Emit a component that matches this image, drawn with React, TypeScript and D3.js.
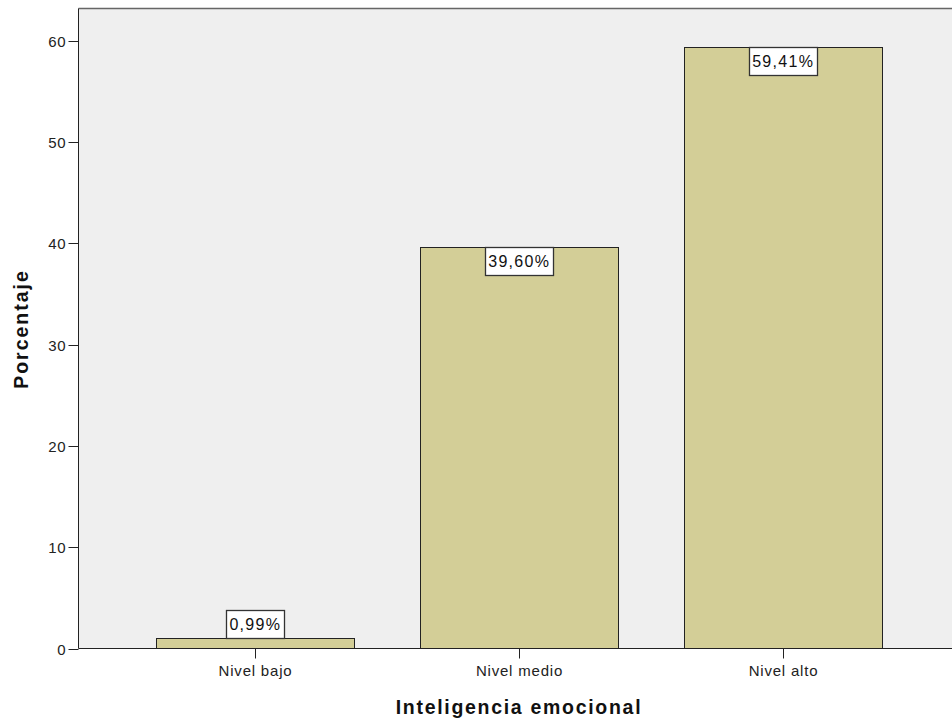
import React, { useEffect, useRef } from "react";
import * as d3 from "d3";

const categories = ["Nivel bajo", "Nivel medio", "Nivel alto"];
const percentages = [0.99, 39.6, 59.41];
const valueLabels = ["0,99%", "39,60%", "59,41%"];
const yTicks = [0, 10, 20, 30, 40, 50, 60];
const xTitle = "Inteligencia emocional";
const yTitle = "Porcentaje";

export default function App() {
  const ref = useRef<SVGSVGElement>(null);
  useEffect(() => {
    const svg = d3.select(ref.current);
    svg.selectAll("*").remove();
    const W = 952;
    const left = 78.5, top = 8.5, bottom = 648.5, right = 960;
    const x = d3.scaleBand<string>().domain(categories).range([left, right]).paddingInner(0.25).paddingOuter(0.295);
    const y = d3.scaleLinear().domain([0, 63.2]).range([bottom, top]);
    const font = "Arial, 'Liberation Sans', sans-serif";

    svg.append("rect").attr("x", left).attr("y", top).attr("width", right - left).attr("height", bottom - top).attr("fill", "#efefef");
    svg.append("line").attr("x1", left).attr("x2", W).attr("y1", top).attr("y2", top).attr("stroke", "#666").attr("stroke-width", 1.5);

    // bars
    svg.selectAll("rect.bar").data(percentages).enter().append("rect")
      .attr("class", "bar")
      .attr("x", (_, i) => Math.round(x(categories[i])!) + 0.5)
      .attr("width", Math.round(x.bandwidth()))
      .attr("y", d => Math.round(y(d)) + 0.5)
      .attr("height", d => bottom - Math.round(y(d)) - 0.5)
      .attr("fill", "#d3ce97").attr("stroke", "#222").attr("stroke-width", 1);

    // axes lines
    svg.append("line").attr("x1", left).attr("x2", left).attr("y1", top).attr("y2", bottom).attr("stroke", "#222");
    svg.append("line").attr("x1", left).attr("x2", W).attr("y1", bottom).attr("y2", bottom).attr("stroke", "#222");

    // y ticks
    const yt = svg.append("g");
    yTicks.forEach(t => {
      const yy = Math.round(y(t)) + 0.5;
      yt.append("line").attr("x1", left - 10).attr("x2", left).attr("y1", yy).attr("y2", yy).attr("stroke", "#222");
      yt.append("text").attr("x", left - 12).attr("y", yy).attr("dy", "0.36em").attr("text-anchor", "end")
        .attr("font-family", font).attr("font-size", 15).attr("letter-spacing", 0.8).attr("fill", "#222").text(String(t));
    });

    // x ticks
    categories.forEach(c => {
      const xx = Math.round(x(c)! + x.bandwidth() / 2) + 0.5;
      svg.append("line").attr("x1", xx).attr("x2", xx).attr("y1", bottom).attr("y2", bottom + 10).attr("stroke", "#222");
      svg.append("text").attr("x", xx).attr("y", 675.5).attr("text-anchor", "middle")
        .attr("font-family", font).attr("font-size", 15).attr("letter-spacing", 0.8).attr("fill", "#222").text(c);
    });

    // value labels
    percentages.forEach((v, i) => {
      const cx = x(categories[i])! + x.bandwidth() / 2;
      const barTop = Math.round(y(v)) + 0.5;
      const g = svg.append("g");
      const boxH = 28;
      const inside = bottom - barTop > 40;
      const by = inside ? barTop : barTop - boxH;
      const t = g.append("text").attr("x", cx).attr("y", by + boxH / 2).attr("dy", "0.36em").attr("text-anchor", "middle")
        .attr("font-family", font).attr("font-size", 16).attr("letter-spacing", 1.3).attr("fill", "#111").text(valueLabels[i]);
      const w = (t.node() as SVGTextElement).getComputedTextLength() + 6;
      g.insert("rect", "text").attr("x", Math.round(cx - w / 2) + 0.5).attr("y", by).attr("width", Math.round(w)).attr("height", boxH)
        .attr("fill", "#fff").attr("stroke", "#333").attr("stroke-width", 1.3);
    });

    // titles
    svg.append("text").attr("x", 519).attr("y", 714).attr("text-anchor", "middle")
      .attr("font-family", font).attr("font-size", 19.5).attr("letter-spacing", 1.7).attr("font-weight", "bold").attr("fill", "#111").text(xTitle);
    svg.append("text").attr("transform", `translate(28,329) rotate(-90)`).attr("text-anchor", "middle")
      .attr("font-family", font).attr("font-size", 19.5).attr("letter-spacing", 2).attr("font-weight", "bold").attr("fill", "#111").text(yTitle);
  }, []);
  return <svg ref={ref} width={952} height={724} style={{ position: "absolute", left: 0, top: 0, background: "#fff" }} />;
}
